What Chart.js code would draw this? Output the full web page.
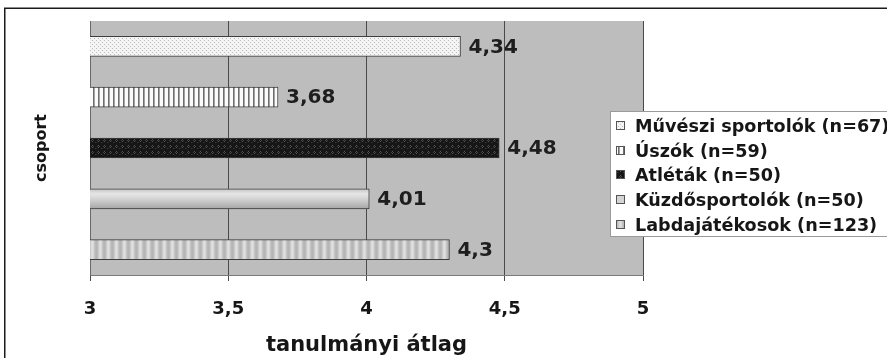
<!DOCTYPE html>
<html><head><meta charset="utf-8">
<script src="https://cdn.jsdelivr.net/npm/chart.js@4.4.0/dist/chart.umd.min.js"></script>
<style>html,body{margin:0;padding:0;background:#fff;overflow:hidden}#wrap{width:887px;height:358px;position:relative}</style>
</head><body><div id="wrap"><canvas id="c" width="887" height="358"></canvas></div>
<script>
const categories = ['Művészi sportolók (n=67)','Úszók (n=59)','Atléták (n=50)','Küzdősportolók (n=50)','Labdajátékosok (n=123)'];
const values = [4.34, 3.68, 4.48, 4.01, 4.3];
const valueLabels = ['4,34','3,68','4,48','4,01','4,3'];
const xTicks = [3, 3.5, 4, 4.5, 5];
const xTickLabels = ['3','3,5','4','4,5','5'];
const xTitle = 'tanulmányi átlag';
const yTitle = 'csoport';

const FONT = '"DejaVu Sans", sans-serif';

function makePattern(w, h, draw) {
  const c = document.createElement('canvas');
  c.width = w; c.height = h;
  const g = c.getContext('2d');
  draw(g);
  return document.getElementById('c').getContext('2d').createPattern(c, 'repeat');
}
function px(g, x, y, col) { g.fillStyle = col; g.fillRect(x, y, 1, 1); }

const fills = [
  makePattern(4, 4, g => { g.fillStyle = '#f4f4f4'; g.fillRect(0,0,4,4); px(g,0,0,'#bdbdbd'); px(g,2,2,'#bdbdbd'); }),
  makePattern(5, 1, g => { g.fillStyle = '#fbfbfb'; g.fillRect(0,0,5,1); px(g,3,0,'#6e6e6e'); px(g,4,0,'#a4a4a4'); }),
  makePattern(6, 6, g => {
    g.fillStyle = '#161616'; g.fillRect(0,0,6,6);
    px(g,2,1,'#555'); px(g,1,2,'#444'); px(g,3,2,'#444'); px(g,2,3,'#555');
    px(g,5,4,'#3a3a3a'); px(g,0,4,'#2a2a2a');
  }),
  '#cfcfcf',
  makePattern(8, 1, g => {
    const cols = ['#b4b4b4','#bcbcbc','#cacaca','#dadada','#e0e0e0','#d6d6d6','#c6c6c6','#b9b9b9'];
    cols.forEach((c,i) => px(g,i,0,c));
  })
];

function barFill(ctx) {
  const i = ctx.dataIndex;
  if (i === 3) {
    const chart = ctx.chart;
    if (chart.scales && chart.scales.y && chart.chartArea) {
      const y = chart.scales.y.getPixelForValue(i);
      const gr = chart.ctx.createLinearGradient(0, y - 10, 0, y + 10);
      gr.addColorStop(0, '#c4c4c4');
      gr.addColorStop(0.25, '#e6e6e6');
      gr.addColorStop(0.5, '#d4d4d4');
      gr.addColorStop(1, '#a6a6a6');
      return gr;
    }
    return fills[3];
  }
  return fills[i];
}

const deco = {
  id: 'deco',
  beforeDraw(chart) {
    const ctx = chart.ctx, a = chart.chartArea;
    ctx.save();
    ctx.fillStyle = '#fff';
    ctx.fillRect(0, 0, chart.width, chart.height);
    ctx.strokeStyle = '#1a1a1a';
    ctx.lineWidth = 1.5;
    ctx.beginPath();
    ctx.moveTo(4.75, chart.height);
    ctx.lineTo(4.75, 8.25);
    ctx.lineTo(chart.width, 8.25);
    ctx.stroke();
    ctx.fillStyle = '#bdbdbd';
    ctx.fillRect(a.left, a.top, a.right - a.left, a.bottom - a.top);
    ctx.restore();
  },
  afterDatasetsDraw(chart) {
    const ctx = chart.ctx;
    const meta = chart.getDatasetMeta(0);
    ctx.save();
    ctx.font = 'bold 20px ' + FONT;
    ctx.fillStyle = '#1e1e1e';
    ctx.textBaseline = 'middle';
    ctx.textAlign = 'left';
    meta.data.forEach((el, i) => {
      ctx.fillText(valueLabels[i], el.x + 8, el.y + 1);
    });
    ctx.restore();
  },
  afterDraw(chart) {
    const ctx = chart.ctx;
    ctx.save();
    // legend
    const lx = 610, ly = 111, lh = 125;
    ctx.fillStyle = '#fff';
    ctx.fillRect(lx, ly, chart.width - lx + 10, lh);
    ctx.strokeStyle = '#9a9a9a';
    ctx.lineWidth = 1;
    ctx.strokeRect(lx + 0.5, ly + 0.5, chart.width - lx + 10, lh);
    ctx.font = 'bold 17.6px ' + FONT;
    ctx.textAlign = 'left';
    ctx.textBaseline = 'middle';
    categories.forEach((name, i) => {
      const y = Math.round(126 + i * 24.7);
      const f = i === 3 ? '#d4d4d4' : fills[i];
      ctx.fillStyle = f;
      ctx.fillRect(616, y - 5, 9, 9);
      ctx.strokeStyle = '#555';
      ctx.strokeRect(616.5, y - 4.5, 8, 8);
      ctx.fillStyle = '#161616';
      ctx.fillText(name, 635, y + 1);
    });
    ctx.restore();
  }
};

new Chart(document.getElementById('c'), {
  type: 'bar',
  data: {
    labels: categories,
    datasets: [{
      data: values,
      backgroundColor: barFill,
      borderColor: '#3c3c3c',
      borderWidth: 1,
      borderSkipped: false,
      barThickness: 20
    }]
  },
  options: {
    indexAxis: 'y',
    responsive: false,
    animation: false,
    devicePixelRatio: 1,
    layout: { padding: { left: 5, top: 21, right: 244, bottom: 0 } },
    plugins: { legend: { display: false }, tooltip: { enabled: false } },
    scales: {
      x: {
        type: 'linear', min: 3, max: 5,
        afterBuildTicks: s => { s.ticks = xTicks.map(v => ({ value: v })); },
        afterFit: s => { s.height = 83; },
        ticks: {
          callback: (v, i) => xTickLabels[i],
          font: { family: FONT, weight: 'bold', size: 18 },
          color: '#161616',
          padding: 18
        },
        grid: { color: '#4a4a4a', lineWidth: 1, tickLength: 6, drawTicks: true },
        border: { display: true, color: '#7a7a7a' },
        title: {
          display: true, text: xTitle,
          font: { family: FONT, weight: 'bold', size: 21 },
          color: '#161616',
          padding: { top: 0, bottom: 0 }
        }
      },
      y: {
        afterFit: s => { s.width = 85; },
        ticks: { display: false },
        grid: { display: false },
        border: { display: true, color: '#6a6a6a' },
        title: {
          display: true, text: yTitle,
          font: { family: FONT, weight: 'bold', size: 16 },
          color: '#161616',
          padding: { top: 27, bottom: 0 }
        }
      }
    }
  },
  plugins: [deco]
});
</script></body></html>
